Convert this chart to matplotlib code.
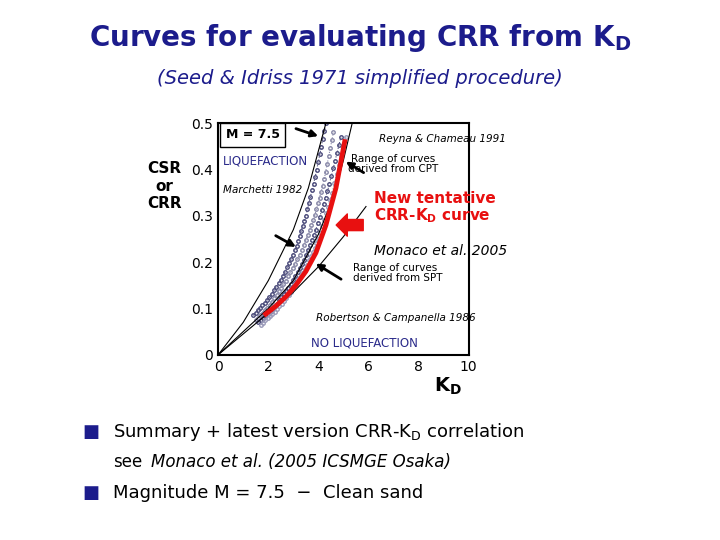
import matplotlib
matplotlib.use("Agg")
import matplotlib.pyplot as plt
import numpy as np

kd_monaco = [1.9, 2.3, 2.7, 3.1, 3.5, 3.9, 4.3, 4.7, 5.05]
crr_monaco = [0.088, 0.105, 0.125, 0.15, 0.18, 0.22, 0.28, 0.36, 0.46]
kd_marchetti = [0, 1, 2, 3, 3.6, 4.0, 4.3]
crr_marchetti = [0, 0.07, 0.16, 0.27, 0.36, 0.44, 0.5]
kd_robertson = [0, 1, 2, 3, 4, 5, 5.9]
crr_robertson = [0, 0.045, 0.09, 0.135, 0.19, 0.255, 0.32]
kd_reyna = [0, 1, 2, 3, 4, 4.6, 5.0, 5.35]
crr_reyna = [0, 0.05, 0.1, 0.16, 0.26, 0.34, 0.42, 0.5]
dot_kd = [[1.4, 2.0, 2.6, 3.1, 3.5, 3.9, 4.3],
          [1.5, 2.1, 2.7, 3.3, 3.8, 4.2, 4.6],
          [1.6, 2.2, 2.8, 3.4, 3.9, 4.4, 4.9],
          [1.7, 2.3, 2.9, 3.5, 4.0, 4.5, 5.1]]
dot_crr = [[0.085, 0.12, 0.17, 0.23, 0.3, 0.39, 0.5],
           [0.075, 0.11, 0.16, 0.22, 0.29, 0.37, 0.48],
           [0.07, 0.1, 0.145, 0.2, 0.27, 0.36, 0.47],
           [0.065, 0.095, 0.135, 0.19, 0.25, 0.34, 0.47]]
dot_col = ['#4a4a7a', '#8888a8', '#4a4a7a', '#9a9ab8']

navy = '#1c1c8c'
fig = plt.figure(figsize=(7.2, 5.4), dpi=100)
fig.text(0.5, 0.93, r'Curves for evaluating CRR from K$_\mathregular{D}$', ha='center', va='center',
         fontsize=20, fontweight='bold', color=navy)
fig.text(0.5, 0.855, '(Seed & Idriss 1971 simplified procedure)', ha='center', va='center',
         fontsize=14, style='italic', color=navy)

ax = fig.add_axes([0.303, 0.343, 0.348, 0.429])
ax.set_xlim(0, 10); ax.set_ylim(0, 0.5)
ax.set_xticks([0, 2, 4, 6, 8, 10]); ax.set_yticks([0, 0.1, 0.2, 0.3, 0.4, 0.5])
ax.set_yticklabels(['0', '0.1', '0.2', '0.3', '0.4', '0.5'])
ax.tick_params(direction='in', labelsize=10, length=0)
for sp in ax.spines.values():
    sp.set_linewidth(1.5)
for k, c, col in zip(dot_kd, dot_crr, dot_col):
    kk = np.interp(np.linspace(0, len(k) - 1, 40), range(len(k)), k)
    cc = np.interp(np.linspace(0, len(c) - 1, 40), range(len(c)), c)
    ax.plot(kk, cc, ':', marker='o', ms=2.5, mfc='none', color=col, lw=0.8)
ax.plot(kd_marchetti, crr_marchetti, 'k-', lw=0.8)
ax.plot(kd_robertson, crr_robertson, 'k-', lw=0.8)
ax.plot(kd_reyna, crr_reyna, 'k-', lw=0.8)
ax.plot(kd_monaco, crr_monaco, '-', color='#e81010', lw=3.5)

ax.text(0.3, 0.467, 'M = 7.5', fontsize=9, fontweight='bold',
        bbox=dict(fc='white', ec='black', lw=1))
ax.text(0.2, 0.41, 'LIQUEFACTION', fontsize=8.5, color='#2a2a8a')
ax.text(0.2, 0.35, 'Marchetti 1982', fontsize=7.5, style='italic')
ax.text(6.4, 0.46, 'Reyna & Chameau 1991', fontsize=7.5, style='italic')
ax.text(7.0, 0.395, 'Range of curves\nderived from CPT', fontsize=7.5, ha='center', linespacing=1.0)
ax.text(6.2, 0.29, r'New tentative'+'\n'+r'CRR-K$_\mathregular{D}$ curve', fontsize=11,
        fontweight='bold', color='#e81010', linespacing=1.0)
ax.text(6.2, 0.215, 'Monaco et al. 2005', fontsize=10, style='italic')
ax.text(5.4, 0.16, 'Range of curves\nderived from SPT', fontsize=7.5, linespacing=1.0)
ax.text(3.9, 0.072, 'Robertson & Campanella 1986', fontsize=7.5, style='italic')
ax.text(3.7, 0.018, 'NO LIQUEFACTION', fontsize=8.5, color='#2a2a8a')
ax.annotate('', xy=(4.1, 0.47), xytext=(3.0, 0.49), arrowprops=dict(arrowstyle='-|>', lw=2, color='k'))
ax.annotate('', xy=(5.0, 0.42), xytext=(5.9, 0.39), arrowprops=dict(arrowstyle='-|>', lw=2, color='k'))
ax.annotate('', xy=(3.2, 0.23), xytext=(2.2, 0.26), arrowprops=dict(arrowstyle='-|>', lw=2, color='k'))
ax.annotate('', xy=(3.8, 0.2), xytext=(5.0, 0.16), arrowprops=dict(arrowstyle='-|>', lw=2, color='k'))
ax.annotate('', xy=(4.6, 0.28), xytext=(5.9, 0.28),
            arrowprops=dict(arrowstyle='simple,head_width=1.6,head_length=0.8,tail_width=0.8', color='#e81010'))
fig.text(0.228, 0.655, 'CSR\nor\nCRR', ha='center', va='center', fontsize=11, fontweight='bold', linespacing=1.2)
fig.text(0.622, 0.285, r'K$_\mathregular{D}$', ha='center', va='center', fontsize=14, fontweight='bold')

fig.text(0.115, 0.2, '■', fontsize=13, color=navy, va='center')
fig.text(0.157, 0.2, r'Summary + latest version CRR-K$_\mathregular{D}$ correlation', fontsize=13, va='center')
fig.text(0.157, 0.145, 'see', fontsize=12, va='center')
fig.text(0.21, 0.145, 'Monaco et al. (2005 ICSMGE Osaka)', fontsize=12, style='italic', va='center')
fig.text(0.115, 0.087, '■', fontsize=13, color=navy, va='center')
fig.text(0.157, 0.087, 'Magnitude M = 7.5  \u2212  Clean sand', fontsize=13, va='center')
fig.savefig('out.png', dpi=100)
